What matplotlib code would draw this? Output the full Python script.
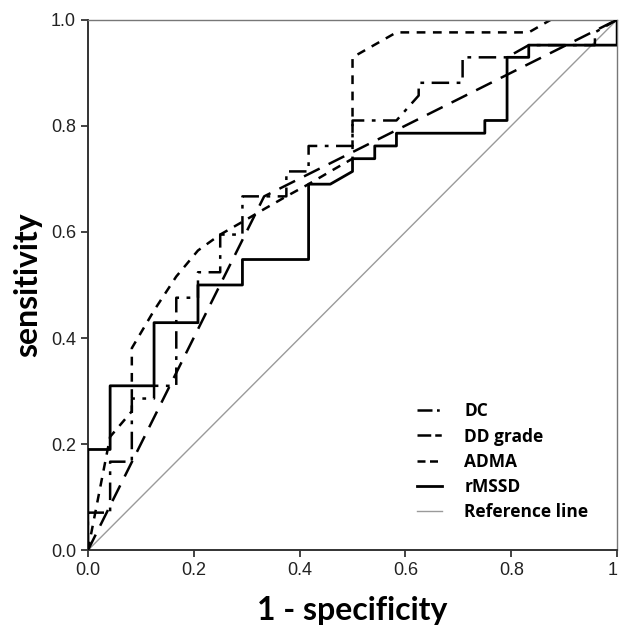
import matplotlib.pyplot as plt
from matplotlib.lines import Line2D

# ROC curve points (1 - specificity, sensitivity)
dc_x = [0, 0, 0.042, 0.042, 0.083, 0.083, 0.125, 0.125, 0.167, 0.167, 0.208, 0.208,
        0.25, 0.25, 0.292, 0.292, 0.375, 0.375, 0.417, 0.417, 0.5, 0.5, 0.583, 0.625,
        0.625, 0.708, 0.708, 0.792, 0.833, 0.958, 0.958, 1.0]
dc_y = [0, 0.071, 0.071, 0.167, 0.167, 0.286, 0.286, 0.31, 0.31, 0.476, 0.476, 0.524,
        0.524, 0.595, 0.595, 0.667, 0.667, 0.714, 0.714, 0.762, 0.762, 0.81, 0.81, 0.857,
        0.881, 0.881, 0.929, 0.929, 0.952, 0.952, 0.976, 1.0]

dd_x = [0, 0.333, 1.0]
dd_y = [0, 0.667, 1.0]

adma_x = [0, 0.042, 0.083, 0.083, 0.125, 0.167, 0.208, 0.25, 0.292, 0.333, 0.375,
          0.417, 0.458, 0.5, 0.5, 0.583, 0.833, 0.875, 1.0]
adma_y = [0, 0.214, 0.262, 0.381, 0.452, 0.516, 0.565, 0.595, 0.619, 0.643, 0.667,
          0.69, 0.714, 0.738, 0.929, 0.976, 0.976, 1.0, 1.0]

rmssd_x = [0, 0, 0.042, 0.042, 0.125, 0.125, 0.208, 0.208, 0.292, 0.292, 0.417, 0.417,
           0.458, 0.5, 0.5, 0.542, 0.542, 0.583, 0.583, 0.75, 0.75, 0.792, 0.792, 0.833,
           0.833, 1.0, 1.0]
rmssd_y = [0, 0.19, 0.19, 0.31, 0.31, 0.429, 0.429, 0.5, 0.5, 0.548, 0.548, 0.69,
           0.69, 0.714, 0.738, 0.738, 0.762, 0.762, 0.786, 0.786, 0.81, 0.81, 0.929, 0.929,
           0.952, 0.952, 1.0]

ref_x = [0, 1]
ref_y = [0, 1]

x_ticks = [0.0, 0.2, 0.4, 0.6, 0.8, 1.0]
x_tick_labels = ["0.0", "0.2", "0.4", "0.6", "0.8", "1"]
y_ticks = [0.0, 0.2, 0.4, 0.6, 0.8, 1.0]
y_tick_labels = ["0.0", "0.2", "0.4", "0.6", "0.8", "1.0"]

fig = plt.figure(figsize=(6.19, 6.34), dpi=100)
ax = fig.add_axes([0.142, 0.132, 0.855, 0.837])

ax.plot(ref_x, ref_y, color="#9a9a9a", lw=1.0, zorder=1)
ax.plot(dd_x, dd_y, color="black", lw=1.8, dashes=(7, 4), zorder=2)
ax.plot(adma_x, adma_y, color="black", lw=1.8, dashes=(3.5, 3), zorder=2)
ax.plot(dc_x, dc_y, color="black", lw=1.8, dashes=(7, 3, 1.5, 3), zorder=3)
ax.plot(rmssd_x, rmssd_y, color="black", lw=2.0, zorder=4)

ax.set_xlim(0, 1)
ax.set_ylim(0, 1)
ax.set_xticks(x_ticks)
ax.set_xticklabels(x_tick_labels)
ax.set_yticks(y_ticks)
ax.set_yticklabels(y_tick_labels)
ax.tick_params(direction="out", length=5, width=1.2, labelsize=13, colors="#222222")
for lab in ax.get_xticklabels() + ax.get_yticklabels():
    lab.set_family("Liberation Sans")
# last x label sits against the right edge in the original
ax.get_xticklabels()[-1].set_horizontalalignment("right")

for side in ["left", "bottom"]:
    ax.spines[side].set_linewidth(1.4)
    ax.spines[side].set_color("#333333")
for side in ["top", "right"]:
    ax.spines[side].set_linewidth(1.0)
    ax.spines[side].set_color("#777777")

ax.set_xlabel("1 - specificity", fontsize=23, fontweight="bold", family="Lato", labelpad=12)
ax.set_ylabel("sensitivity", fontsize=23, fontweight="bold", family="Lato", labelpad=6)

# legend keys are short, so their dash patterns are compressed
legend_handles = [
    Line2D([], [], color="black", lw=1.8, dashes=(6, 1.8, 1.1, 3)),
    Line2D([], [], color="black", lw=1.8, dashes=(5.5, 1.6, 2.6, 3)),
    Line2D([], [], color="black", lw=1.8, dashes=(3.2, 1.8)),
    Line2D([], [], color="black", lw=2.0),
    Line2D([], [], color="#9a9a9a", lw=1.0),
]
legend_labels = ["DC", "DD grade", "ADMA", "rMSSD", "Reference line"]
ax.legend(legend_handles, legend_labels, loc="lower right", bbox_to_anchor=(0.975, 0.025),
          frameon=False, handlelength=1.4, handletextpad=1.3, labelspacing=0.42,
          prop={"family": "Open Sans", "weight": "bold", "size": 12.5})

fig.savefig("out.png", dpi=100)
